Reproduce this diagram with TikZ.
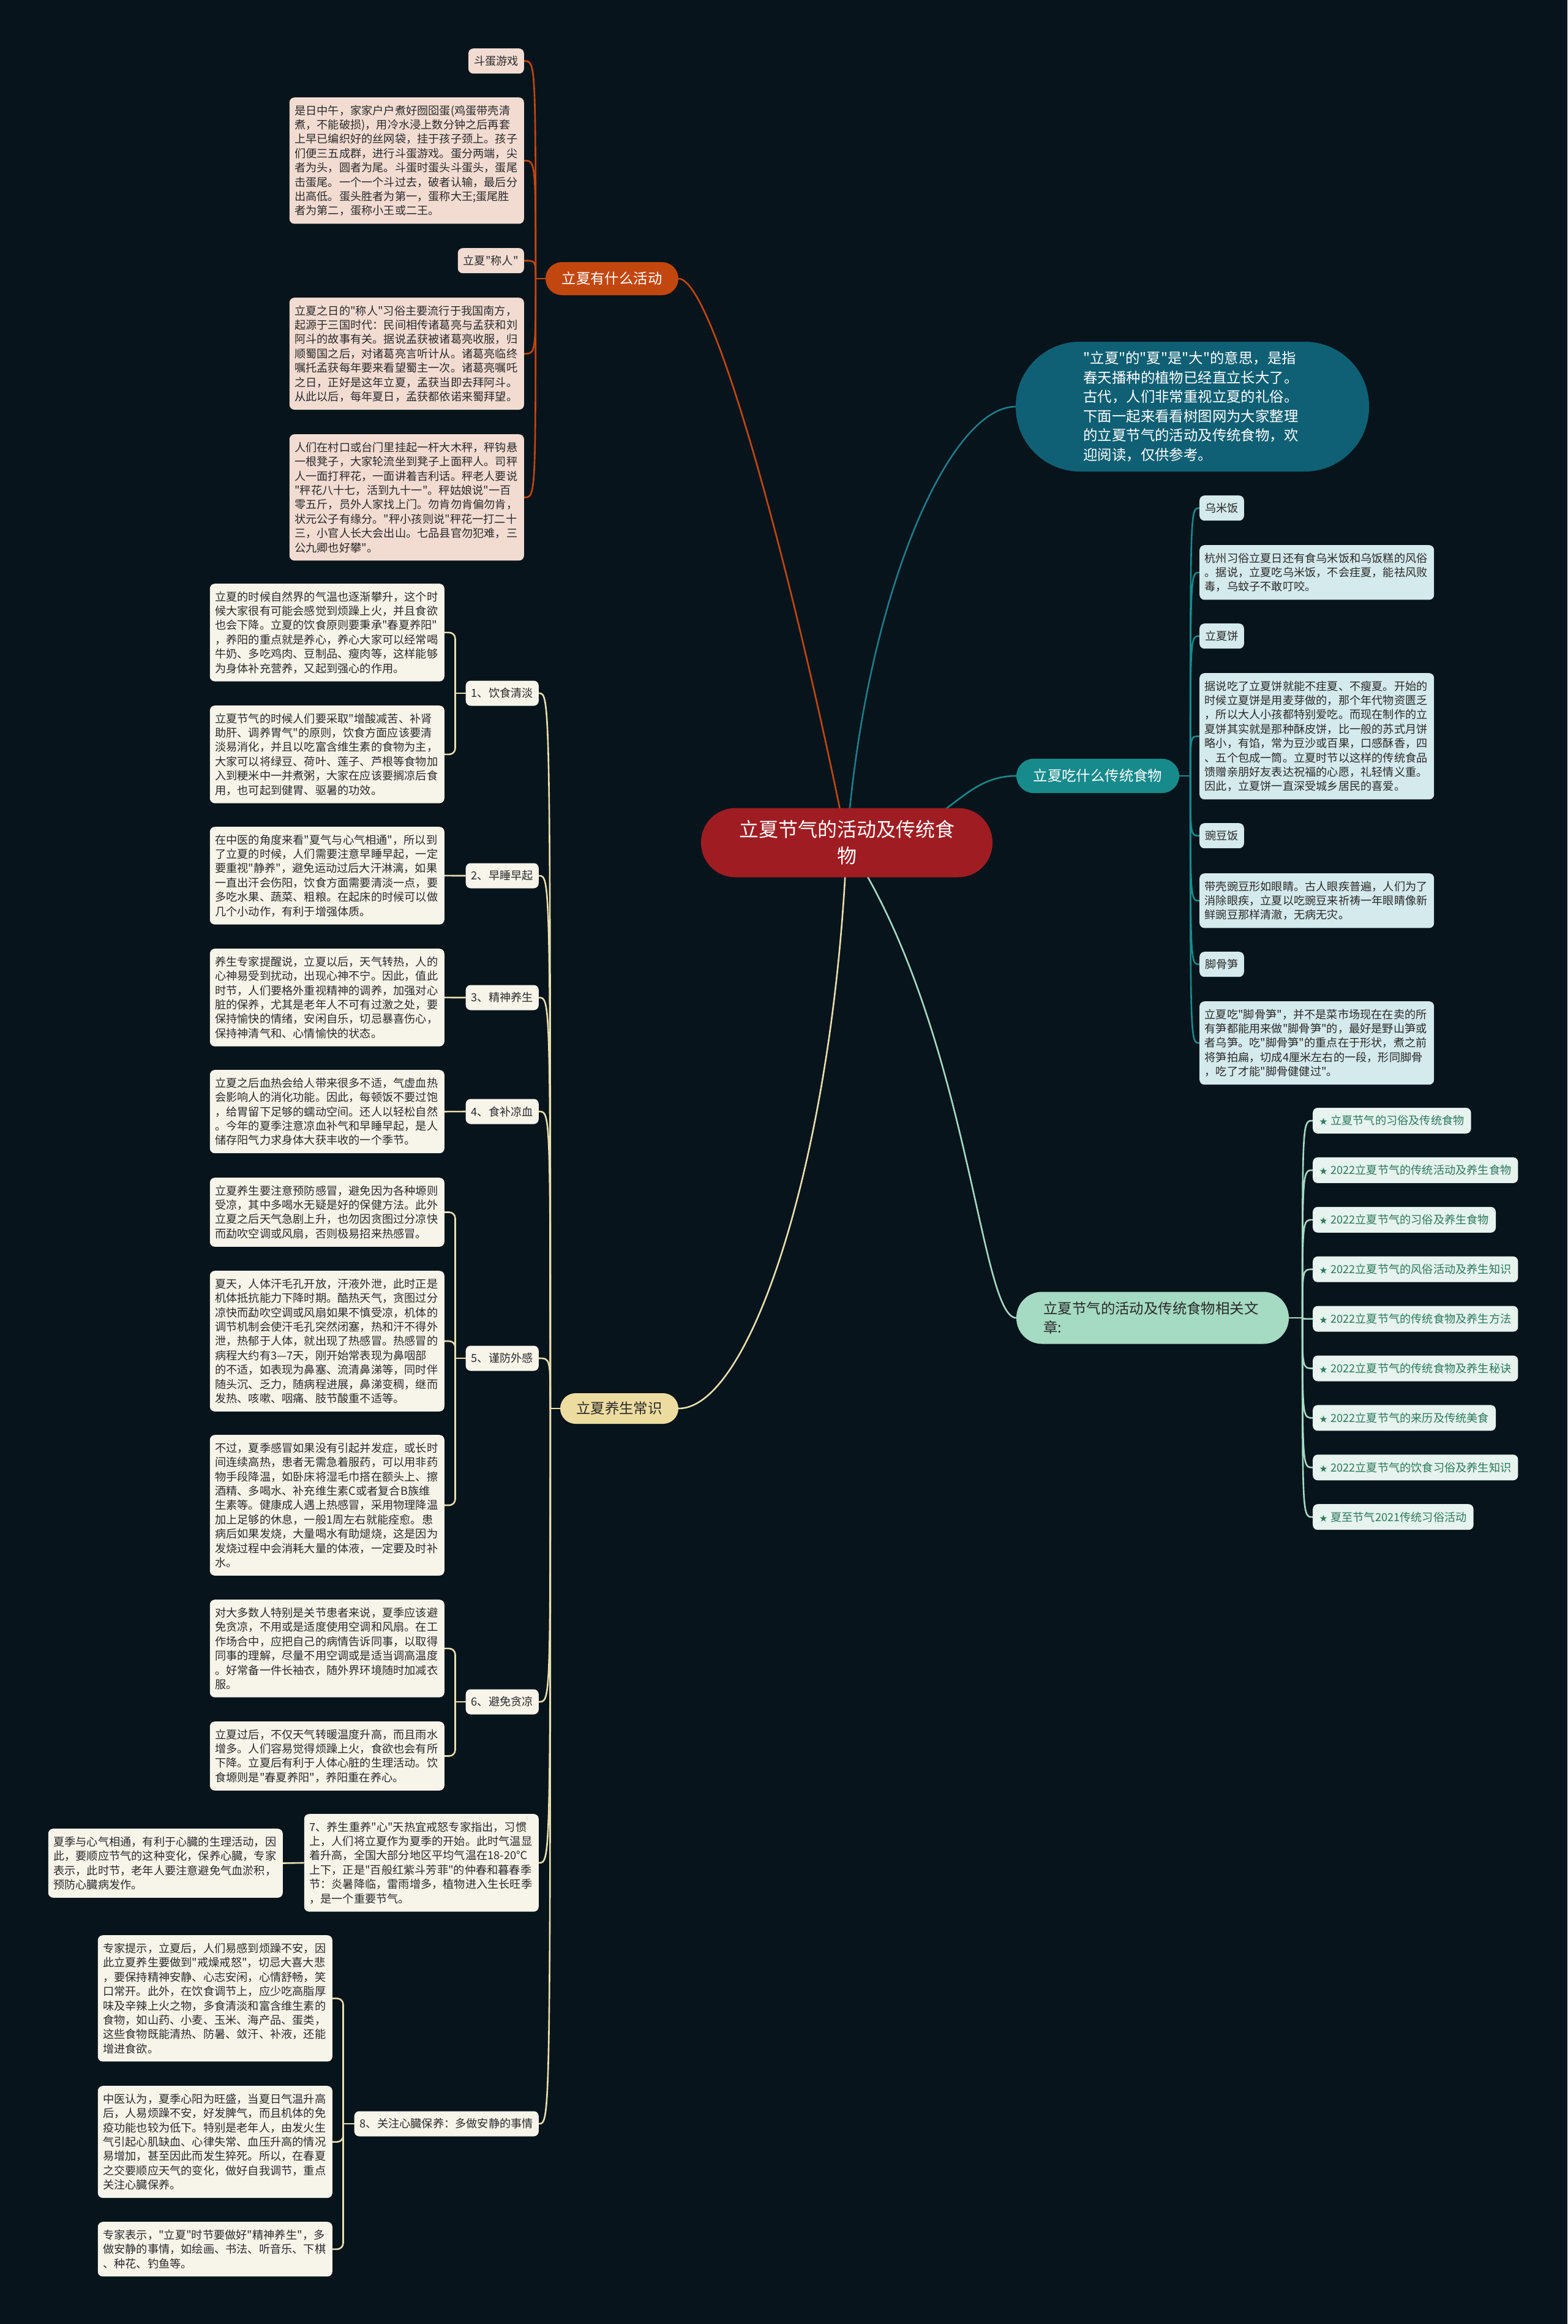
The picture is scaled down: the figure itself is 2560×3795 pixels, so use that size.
\documentclass[tikz,border=0pt]{standalone}
\usepackage{fontspec}
\newfontfamily\lxfont{Noto Sans CJK SC}
\definecolor{lxbg}{HTML}{07141C}
\definecolor{lxroot}{HTML}{9F1D22}
\definecolor{lxorange}{HTML}{C2470F}
\definecolor{lxpink}{HTML}{F2DCD2}
\definecolor{lxintro}{HTML}{0F6074}
\definecolor{lxblue}{HTML}{1F7C8A}
\definecolor{lxteal}{HTML}{178A8C}
\definecolor{lxice}{HTML}{D4EAEC}
\definecolor{lxmint}{HTML}{A5DAC3}
\definecolor{lxmintpale}{HTML}{E6F3EE}
\definecolor{lxgreen}{HTML}{2C7A5C}
\definecolor{lxgold}{HTML}{EDDCA0}
\definecolor{lxcream}{HTML}{E9DFAE}
\definecolor{lxpaper}{HTML}{F7F4EA}
\definecolor{lxink}{HTML}{2A2A2A}
\newcommand\fsmall{\lxfont\fontsize{18.2pt}{23.4pt}\selectfont}
\newcommand\fmid{\lxfont\fontsize{23.4pt}{31.5pt}\selectfont}
\newcommand\fbig{\lxfont\fontsize{32pt}{43pt}\selectfont}
\newcommand\lxstar{{\fontsize{13pt}{13pt}\selectfont ★}\hspace{5pt}}
\pgfdeclarelayer{bg}
\pgfdeclarelayer{edgelayer}
\pgfsetlayers{bg,edgelayer,main}
\tikzset{
  para/.style={text width=366pt, align=left, inner xsep=8.5pt, inner ysep=2pt, minimum height={23.4pt*#1+19pt}, rounded corners=8pt, font=\fsmall, text=lxink},
  lbl/.style={inner xsep=9pt, inner ysep=2pt, minimum height=41pt, rounded corners=8pt, font=\fsmall, text=lxink},
  pill/.style={inner sep=0pt, align=center, font=\fmid},
  actv/.style={fill=lxpink},
  food/.style={fill=lxice},
  care/.style={fill=lxpaper},
  item/.style={lbl, fill=lxmintpale, text=lxgreen, inner xsep=11pt, minimum height=42pt, anchor=west},
  lnorange/.style={draw=lxorange, line width=2.6pt},
  lnblue/.style={draw=lxblue, line width=2.6pt},
  lnteal/.style={draw=lxteal, line width=2.6pt},
  lnmint/.style={draw=lxmint, line width=2.6pt},
  lncream/.style={draw=lxcream, line width=2.6pt},
}

\begin{document}
\begin{tikzpicture}[x=1pt, y=-1pt]
  \useasboundingbox (0,0) rectangle (2560,3795);
  \begin{pgfonlayer}{bg}
    \fill[lxbg] (0,0) rectangle (2560,3795);
  \end{pgfonlayer}

  \node[pill, fill=lxroot, text=white, font=\fbig, text width=352pt, minimum width=476pt, minimum height=113pt, rounded corners=56pt] (root) at (1383,1376) {立夏节气的活动及传统食\\物};

  \node[pill, fill=lxorange, text=white, minimum width=217pt, minimum height=54pt, rounded corners=27pt] (b1) at (999.5,455) {立夏有什么活动};
  \node[pill, fill=lxintro, text=white, text width=356pt, align=left, minimum width=577pt, minimum height=212pt, rounded corners=105pt] (intro) at (1947.5,664) {"立夏"的"夏"是"大"的意思，是指\\春天播种的植物已经直立长大了。\\古代，人们非常重视立夏的礼俗。\\下面一起来看看树图网为大家整理\\的立夏节气的活动及传统食物，欢\\迎阅读，仅供参考。};
  \node[pill, fill=lxteal, text=white, minimum width=266pt, minimum height=56pt, rounded corners=28pt] (b2) at (1793,1267) {立夏吃什么传统食物};
  \node[pill, fill=lxmint, text=lxink, text width=356pt, align=left, minimum width=445pt, minimum height=85pt, rounded corners=42pt] (b3) at (1882.5,2152) {立夏节气的活动及传统食物相关文\\章:};
  \node[pill, fill=lxgold, text=lxink, minimum width=193pt, minimum height=50pt, rounded corners=25pt] (b4) at (1011.5,2300) {立夏养生常识};

  \node[lbl, actv, anchor=north east] (s1) at (856,79) {斗蛋游戏};
  \node[para=8, actv, anchor=north east] (p1) at (856,159) {是日中午，家家户户煮好囫囵蛋(鸡蛋带壳清\\煮，不能破损)，用冷水浸上数分钟之后再套\\上早已编织好的丝网袋，挂于孩子颈上。孩子\\们便三五成群，进行斗蛋游戏。蛋分两端，尖\\者为头，圆者为尾。斗蛋时蛋头斗蛋头，蛋尾\\击蛋尾。一个一个斗过去，破者认输，最后分\\出高低。蛋头胜者为第一，蛋称大王;蛋尾胜\\者为第二，蛋称小王或二王。};
  \node[lbl, actv, anchor=north east] (s2) at (856,405) {立夏"称人"};
  \node[para=7, actv, anchor=north east] (p2) at (856,486) {立夏之日的"称人"习俗主要流行于我国南方，\\起源于三国时代：民间相传诸葛亮与孟获和刘\\阿斗的故事有关。据说孟获被诸葛亮收服，归\\顺蜀国之后，对诸葛亮言听计从。诸葛亮临终\\嘱托孟获每年要来看望蜀主一次。诸葛亮嘱吒\\之日，正好是这年立夏，孟获当即去拜阿斗。\\从此以后，每年夏日，孟获都依诺来蜀拜望。};
  \node[para=8, actv, anchor=north east] (p3) at (856,709) {人们在村口或台门里挂起一杆大木秤，秤钩悬\\一根凳子，大家轮流坐到凳子上面秤人。司秤\\人一面打秤花，一面讲着吉利话。秤老人要说\\"秤花八十七，活到九十一"。秤姑娘说"一百\\零五斤，员外人家找上门。勿肯勿肯偏勿肯，\\状元公子有缘分。"秤小孩则说"秤花一打二十\\三，小官人长大会出山。七品县官勿犯难，三\\公九卿也好攀"。};

  \node[lbl, food, anchor=north west] (w1) at (1959,809) {乌米饭};
  \node[para=3, food, anchor=north west] (q1) at (1959,890) {杭州习俗立夏日还有食乌米饭和乌饭糕的风俗\\。据说，立夏吃乌米饭，不会疰夏，能祛风败\\毒，乌蚊子不敢叮咬。};
  \node[lbl, food, anchor=north west] (w2) at (1959,1018) {立夏饼};
  \node[para=8, food, anchor=north west] (q2) at (1959,1099) {据说吃了立夏饼就能不疰夏、不瘦夏。开始的\\时候立夏饼是用麦芽做的，那个年代物资匮乏\\，所以大人小孩都特别爱吃。而现在制作的立\\夏饼其实就是那种酥皮饼，比一般的苏式月饼\\略小，有馅，常为豆沙或百果，口感酥香，四\\、五个包成一筒。立夏时节以这样的传统食品\\馈赠亲朋好友表达祝福的心愿，礼轻情义重。\\因此，立夏饼一直深受城乡居民的喜爱。};
  \node[lbl, food, anchor=north west] (w3) at (1959,1344) {豌豆饭};
  \node[para=3, food, anchor=north west] (q3) at (1959,1426) {带壳豌豆形如眼睛。古人眼疾普遍，人们为了\\消除眼疾，立夏以吃豌豆来祈祷一年眼睛像新\\鲜豌豆那样清澈，无病无灾。};
  \node[lbl, food, anchor=north west] (w4) at (1959,1554) {脚骨笋};
  \node[para=5, food, anchor=north west] (q4) at (1959,1635) {立夏吃"脚骨笋"，并不是菜市场现在在卖的所\\有笋都能用来做"脚骨笋"的，最好是野山笋或\\者乌笋。吃"脚骨笋"的重点在于形状，煮之前\\将笋拍扁，切成4厘米左右的一段，形同脚骨\\，吃了才能"脚骨健健过"。};

  \foreach \t [count=\i] in {立夏节气的习俗及传统食物, 2022立夏节气的传统活动及养生食物, 2022立夏节气的习俗及养生食物, 2022立夏节气的风俗活动及养生知识, 2022立夏节气的传统食物及养生方法, 2022立夏节气的传统食物及养生秘诀, 2022立夏节气的来历及传统美食, 2022立夏节气的饮食习俗及养生知识, 夏至节气2021传统习俗活动}
    \node[item] (r\i) at (2144,{1830+80.9*(\i-1)}) {\lxstar\t};

  \node[lbl, care, anchor=east] (n1) at (880,1132) {1、饮食清淡};
  \node[para=6, care, anchor=north east] (a1) at (726,953) {立夏的时候自然界的气温也逐渐攀升，这个时\\候大家很有可能会感觉到烦躁上火，并且食欲\\也会下降。立夏的饮食原则要秉承"春夏养阳"\\，养阳的重点就是养心，养心大家可以经常喝\\牛奶、多吃鸡肉、豆制品、瘦肉等，这样能够\\为身体补充营养，又起到强心的作用。};
  \node[para=6, care, anchor=north east] (a2) at (726,1152) {立夏节气的时候人们要采取"增酸减苦、补肾\\助肝、调养胃气"的原则，饮食方面应该要清\\淡易消化，并且以吃富含维生素的食物为主，\\大家可以将绿豆、荷叶、莲子、芦根等食物加\\入到粳米中一并煮粥，大家在应该要搁凉后食\\用，也可起到健胃、驱暑的功效。};
  \node[lbl, care, anchor=east] (n2) at (880,1430) {2、早睡早起};
  \node[para=6, care, anchor=north east] (bb) at (726,1350) {在中医的角度来看"夏气与心气相通"，所以到\\了立夏的时候，人们需要注意早睡早起，一定\\要重视"静养"，避免运动过后大汗淋漓，如果\\一直出汗会伤阳，饮食方面需要清淡一点，要\\多吃水果、蔬菜、粗粮。在起床的时候可以做\\几个小动作，有利于增强体质。};
  \node[lbl, care, anchor=east] (n3) at (880,1629) {3、精神养生};
  \node[para=6, care, anchor=north east] (cc) at (726,1549) {养生专家提醒说，立夏以后，天气转热，人的\\心神易受到扰动，出现心神不宁。因此，值此\\时节，人们要格外重视精神的调养，加强对心\\脏的保养，尤其是老年人不可有过激之处，要\\保持愉快的情绪，安闲自乐，切忌暴喜伤心，\\保持神清气和、心情愉快的状态。};
  \node[lbl, care, anchor=east] (n4) at (880,1815) {4、食补凉血};
  \node[para=5, care, anchor=north east] (dd) at (726,1747) {立夏之后血热会给人带来很多不适，气虚血热\\会影响人的消化功能。因此，每顿饭不要过饱\\，给胃留下足够的蠕动空间。还人以轻松自然\\。今年的夏季注意凉血补气和早睡早起，是人\\储存阳气力求身体大获丰收的一个季节。};
  \node[lbl, care, anchor=east] (n5) at (880,2218) {5、谨防外感};
  \node[para=4, care, anchor=north east] (e1) at (726,1923) {立夏养生要注意预防感冒，避免因为各种塬则\\受凉，其中多喝水无疑是好的保健方法。此外\\立夏之后天气急剧上升，也勿因贪图过分凉快\\而勐吹空调或风扇，否则极易招来热感冒。};
  \node[para=9, care, anchor=north east] (e2) at (726,2075) {夏天，人体汗毛孔开放，汗液外泄，此时正是\\机体抵抗能力下降时期。酷热天气，贪图过分\\凉快而勐吹空调或风扇如果不慎受凉，机体的\\调节机制会使汗毛孔突然闭塞，热和汗不得外\\泄，热郁于人体，就出现了热感冒。热感冒的\\病程大约有3—7天，刚开始常表现为鼻咽部\\的不适，如表现为鼻塞、流清鼻涕等，同时伴\\随头沉、乏力，随病程进展，鼻涕变稠，继而\\发热、咳嗽、咽痛、肢节酸重不适等。};
  \node[para=9, care, anchor=north east] (e3) at (726,2343) {不过，夏季感冒如果没有引起并发症，或长时\\间连续高热，患者无需急着服药，可以用非药\\物手段降温，如卧床将湿毛巾搭在额头上、擦\\酒精、多喝水、补充维生素C或者复合B族维\\生素等。健康成人遇上热感冒，采用物理降温\\加上足够的休息，一般1周左右就能痊愈。患\\病后如果发烧，大量喝水有助煺烧，这是因为\\发烧过程中会消耗大量的体液，一定要及时补\\水。};
  \node[lbl, care, anchor=east] (n6) at (880,2779) {6、避免贪凉};
  \node[para=6, care, anchor=north east] (f1) at (726,2612) {对大多数人特别是关节患者来说，夏季应该避\\免贪凉，不用或是适度使用空调和风扇。在工\\作场合中，应把自己的病情告诉同事，以取得\\同事的理解，尽量不用空调或是适当调高温度\\。好常备一件长袖衣，随外界环境随时加减衣\\服。};
  \node[para=4, care, anchor=north east] (f2) at (726,2811) {立夏过后，不仅天气转暖温度升高，而且雨水\\增多。人们容易觉得烦躁上火，食欲也会有所\\下降。立夏后有利于人体心脏的生理活动。饮\\食塬则是"春夏养阳"，养阳重在养心。};
  \node[para=6, care, anchor=north east] (n7) at (880,2962) {7、养生重养"心"天热宜戒怒专家指出，习惯\\上，人们将立夏作为夏季的开始。此时气温显\\着升高，全国大部分地区平均气温在18-20℃\\上下，正是"百般红紫斗芳菲"的仲春和暮春季\\节：炎暑降临，雷雨增多，植物进入生长旺季\\，是一个重要节气。};
  \node[para=4, care, anchor=north east] (gg) at (462,2986) {夏季与心气相通，有利于心臓的生理活动，因\\此，要顺应节气的这种变化，保养心臓，专家\\表示，此时节，老年人要注意避免气血淤积，\\预防心臓病发作。};
  \node[lbl, care, anchor=east] (n8) at (880,3468) {8、关注心臓保养：多做安静的事情};
  \node[para=8, care, anchor=north east] (h1) at (543,3160) {专家提示，立夏后，人们易感到烦躁不安，因\\此立夏养生要做到"戒燥戒怒"，切忌大喜大悲\\，要保持精神安静、心志安闲，心情舒畅，笑\\口常开。此外，在饮食调节上，应少吃高脂厚\\味及辛辣上火之物，多食清淡和富含维生素的\\食物，如山药、小麦、玉米、海产品、蛋类，\\这些食物既能清热、防暑、敛汗、补液，还能\\增进食欲。};
  \node[para=7, care, anchor=north east] (h2) at (543,3406) {中医认为，夏季心阳为旺盛，当夏日气温升高\\后，人易烦躁不安，好发脾气，而且机体的免\\疫功能也较为低下。特别是老年人，由发火生\\气引起心肌缺血、心律失常、血压升高的情况\\易增加，甚至因此而发生猝死。所以，在春夏\\之交要顺应天气的变化，做好自我调节，重点\\关注心臓保养。};
  \node[para=3, care, anchor=north east] (h3) at (543,3628) {专家表示，"立夏"时节要做好"精神养生"，多\\做安静的事情，如绘画、书法、听音乐、下棋\\、种花、钓鱼等。};

  \begin{pgfonlayer}{edgelayer}
    \draw[lnorange] (root.center) .. controls +(-80,-400) and +(60,0) .. (b1.east);
    \draw[lnblue] (root.center) .. controls +(30,-400) and +(-110,0) .. (intro.west);
    \draw[lnteal] (root.center) .. controls +(160,0) and +(-100,0) .. (b2.west);
    \draw[lnmint] (root.center) .. controls +(200,300) and +(-60,0) .. (b3.west);
    \draw[lncream] (root.center) .. controls +(-20,500) and +(120,0) .. (b4.east);

    \coordinate (t1) at ([xshift=-16pt]b1.west);
    \draw[lnorange] (b1.west) -- (t1);
    \foreach \nd in {s1,p1,s2,p2,p3} \draw[lnorange] (t1) .. controls (t1 |- \nd.east) .. (\nd.east);

    \coordinate (t2) at ([xshift=18pt]b2.east);
    \draw[lnteal] (b2.east) -- (t2);
    \foreach \nd in {w1,q1,w2,q2,w3,q3,w4,q4} \draw[lnteal] (t2) .. controls (t2 |- \nd.west) .. (\nd.west);

    \coordinate (t3) at ([xshift=22pt]b3.east);
    \draw[lnmint] (b3.east) -- (t3);
    \foreach \i in {1,...,9} \draw[lnmint] (t3) .. controls (t3 |- r\i.west) .. (r\i.west);

    \coordinate (t4) at ([xshift=-16pt]b4.west);
    \draw[lncream] (b4.west) -- (t4);
    \foreach \nd in {n1,n2,n3,n4,n5,n6,n7,n8} \draw[lncream] (t4) .. controls (t4 |- \nd.east) .. (\nd.east);

    \draw[lncream] (n1.west) -- ++(-17,0); \foreach \nd in {a1,a2} \draw[lncream, rounded corners=10pt] (\nd.east) -| ([xshift=-17pt]n1.west);
    \draw[lncream] (n2.west) -- (bb.east); \draw[lncream] (n3.west) -- (cc.east); \draw[lncream] (n4.west) -- (dd.east);
    \draw[lncream] (n5.west) -- ++(-17,0); \foreach \nd in {e1,e2,e3} \draw[lncream, rounded corners=10pt] (\nd.east) -| ([xshift=-17pt]n5.west);
    \draw[lncream] (n6.west) -- ++(-17,0); \foreach \nd in {f1,f2} \draw[lncream, rounded corners=10pt] (\nd.east) -| ([xshift=-17pt]n6.west);
    \draw[lncream] (gg.east) -- (n7.west);
    \draw[lncream] (n8.west) -- ++(-18,0); \foreach \nd in {h1,h2,h3} \draw[lncream, rounded corners=10pt] (\nd.east) -| ([xshift=-18pt]n8.west);
  \end{pgfonlayer}
\end{tikzpicture}
\end{document}
